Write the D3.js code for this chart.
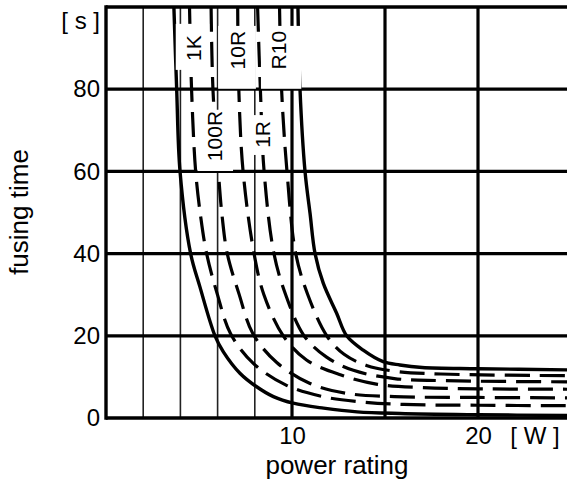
<!DOCTYPE html>
<html>
<head>
<meta charset="utf-8">
<script src="https://cdn.jsdelivr.net/npm/d3@7"></script>
<style>
  html, body { margin: 0; padding: 0; background: #fff; }
  svg { display: block; font-family: "Liberation Sans", Arial, Helvetica, sans-serif; }
</style>
</head>
<body>
<svg id="chart" width="567" height="485"></svg>
<script>
// ---------- data (power rating [W], fusing time [s]) ----------
const xTicks = [10, 20];
const yTicks = [0, 20, 40, 60, 80];
const vGridMinor = [2, 4, 6, 8];
const vGridMajor = [10, 15, 20];
const hGrid = [20, 40, 60, 80];

const lowerLimit = [[3.65,100],[3.8,80],[3.98,60],[4.55,40],[5.05,31.9],[5.86,20],[6.31,16.1],[7.2,10.9],[8.1,7.6],[9.0,5.2],[10.07,3.6],[11.7,2.4],[13.5,1.5],[15.8,1.1],[20,0.8],[25,0.6]];
const curve1K    = [[4.49,100],[4.6,80],[4.82,60],[5.09,49],[5.41,40],[5.98,30.2],[6.7,20.5],[7.92,13.3],[9.68,8.0],[11.65,5.2],[13.75,3.9],[16,3.3],[20,3.1],[25,3.0]];
const curve100R  = [[5.65,100],[5.75,80],[6.04,60],[6.25,48.8],[6.52,40],[7.15,30.2],[7.9,20.5],[9.18,13.5],[10.97,8.4],[12.94,6.0],[15.5,5.2],[20,5.0],[25,4.9]];
const curve10R   = [[7.08,100],[7.14,80],[7.37,60],[7.96,40],[8.49,30],[9.53,20],[10.78,14.1],[12.6,10.5],[14.6,8.2],[17,7.4],[20,7.1],[25,7.0]];
const curve1R    = [[8.15,100],[8.3,80],[8.5,60],[9.03,40],[9.66,30],[10.65,20],[11.86,14.8],[13.3,11.6],[15.5,9.6],[18,9.1],[25,8.8]];
const curveR10   = [[9.33,100],[9.44,80],[9.73,60],[10.2,40],[10.85,30],[11.87,20],[12.8,15.5],[14,12.8],[15.5,11.4],[18,10.7],[25,10.3]];
const upperLimit = [[10.32,100],[10.43,80],[10.7,60],[10.97,49.8],[11.24,40],[11.68,32.8],[12.4,25.5],[12.94,20],[13.83,16.5],[14.9,13.7],[15.8,12.9],[17,12.3],[20,12.0],[25,11.7]];

const curveLabels = ["1K", "100R", "10R", "1R", "R10"];

// ---------- layout ----------
const svg = d3.select("#chart");
const x = d3.scaleLinear().domain([0, 25]).range([106, 571]);
const y = d3.scaleLinear().domain([0, 100]).range([418, 7]);
const plotRight = 567;

// label boxes in data coordinates: [x0, x1, t0, t1, textX, textT]
const labelBoxes = {
  "1K":   [3.75, 5.55, 84.7, 95.9, 4.68, 90.0],
  "10R":  [6.03, 8.06, 80.1, 95.4, 7.07, 89.5],
  "R10":  [8.33, 10.5, 80.1, 95.4, 9.3, 89.5],
  "100R": [4.92, 6.83, 60.1, 75.0, 5.86, 68.6],
  "1R":   [7.5, 9.15, 64.0, 73.7, 8.41, 69.0]
};

const defs = svg.append("defs");
defs.append("clipPath").attr("id", "plotClip")
  .append("rect").attr("x", x(0)).attr("y", y(100)).attr("width", plotRight - x(0)).attr("height", y(0) - y(100));

const g = svg.append("g");

// minor vertical grid
g.selectAll(".vmin").data(vGridMinor).enter().append("line")
  .attr("x1", d => x(d)).attr("x2", d => x(d))
  .attr("y1", y(100)).attr("y2", y(0))
  .attr("stroke", "#222").attr("stroke-width", 1.6);

// major vertical grid
g.selectAll(".vmaj").data(vGridMajor).enter().append("line")
  .attr("x1", d => x(d)).attr("x2", d => x(d))
  .attr("y1", y(100)).attr("y2", y(0))
  .attr("stroke", "#000").attr("stroke-width", 3.2);

// horizontal grid
g.selectAll(".hg").data(hGrid).enter().append("line")
  .attr("x1", x(0)).attr("x2", plotRight)
  .attr("y1", d => y(d)).attr("y2", d => y(d))
  .attr("stroke", "#000").attr("stroke-width", 3.2);

// curves
const line = d3.line().x(d => x(d[0])).y(d => y(d[1])).curve(d3.curveCatmullRom.alpha(0.5));
const curves = [
  {data: lowerLimit, dashed: false},
  {data: curve1K, dashed: true},
  {data: curve100R, dashed: true},
  {data: curve10R, dashed: true},
  {data: curve1R, dashed: true},
  {data: curveR10, dashed: true},
  {data: upperLimit, dashed: false}
];
const cg = g.append("g").attr("clip-path", "url(#plotClip)");
cg.selectAll("path").data(curves).enter().append("path")
  .attr("d", d => line(d.data))
  .attr("fill", "none")
  .attr("stroke", "#000")
  .attr("stroke-width", d => d.dashed ? 3.2 : 3.4)
  .attr("stroke-dasharray", d => d.dashed ? "25,10" : null);

// label boxes and labels
curveLabels.forEach(name => {
  const b = labelBoxes[name];
  g.append("rect")
    .attr("x", x(b[0])).attr("width", x(b[1]) - x(b[0]))
    .attr("y", y(b[3])).attr("height", y(b[2]) - y(b[3]))
    .attr("fill", "#fff");
  const tx = x(b[4]), ty = y(b[5]);
  g.append("text")
    .attr("transform", `translate(${tx},${ty}) rotate(-90)`)
    .attr("text-anchor", "middle")
    .attr("dominant-baseline", "central")
    .attr("font-size", 21)
    .text(name);
});

// frame: left, bottom, top
g.append("line").attr("x1", x(0)).attr("x2", x(0)).attr("y1", y(100) - 1.7).attr("y2", y(0) + 1.8)
  .attr("stroke", "#000").attr("stroke-width", 3.4);
g.append("line").attr("x1", x(0)).attr("x2", plotRight).attr("y1", y(0)).attr("y2", y(0))
  .attr("stroke", "#000").attr("stroke-width", 3.6);
g.append("line").attr("x1", x(0)).attr("x2", plotRight).attr("y1", y(100)).attr("y2", y(100))
  .attr("stroke", "#000").attr("stroke-width", 3.4);

// y tick labels
const yAxis = d3.axisLeft(y).tickValues(yTicks).tickSize(0).tickPadding(6);
const ya = svg.append("g").attr("transform", `translate(${x(0)},0)`).call(yAxis);
ya.select(".domain").remove();
ya.selectAll("text").attr("font-size", 24).attr("font-family", "Liberation Sans, Arial, sans-serif").attr("fill", "#000");
svg.append("text").attr("x", x(0) - 6).attr("y", 20).attr("text-anchor", "end")
  .attr("dominant-baseline", "central").attr("font-size", 24).text("[ s ]");

// x tick labels
const xAxis = d3.axisBottom(x).tickValues(xTicks).tickSize(0).tickPadding(9);
const xa = svg.append("g").attr("transform", `translate(0,${y(0)})`).call(xAxis);
xa.select(".domain").remove();
xa.selectAll("text").attr("font-size", 24).attr("font-family", "Liberation Sans, Arial, sans-serif").attr("fill", "#000");
svg.append("text").attr("x", 535).attr("y", 444).attr("text-anchor", "middle")
  .attr("font-size", 24).text("[ W ]");

// axis titles
svg.append("text").attr("x", 337).attr("y", 474).attr("text-anchor", "middle")
  .attr("font-size", 26).text("power rating");
svg.append("text").attr("transform", "translate(28,212) rotate(-90)").attr("text-anchor", "middle")
  .attr("font-size", 26).text("fusing time");
</script>
</body>
</html>
